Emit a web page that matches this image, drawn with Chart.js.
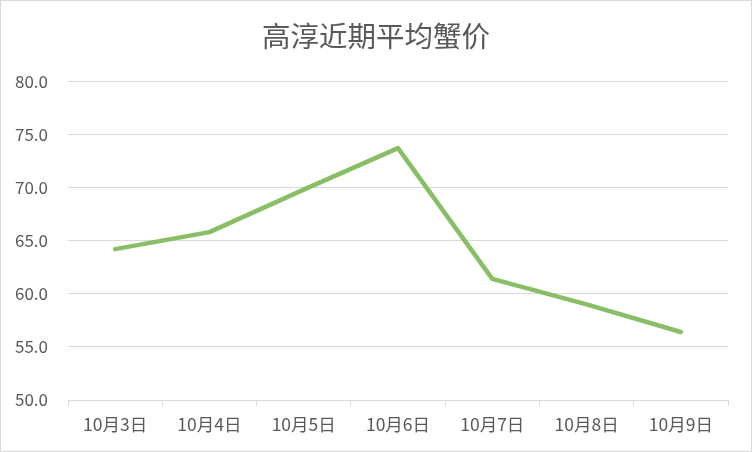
<!DOCTYPE html>
<html>
<head>
<meta charset="utf-8">
<script src="https://cdn.jsdelivr.net/npm/chart.js@4/dist/chart.umd.min.js"></script>
<style>
  html, body { margin: 0; padding: 0; background: #ffffff; }
  #wrap { width: 752px; height: 452px; }
</style>
</head>
<body>
<div id="wrap"><canvas id="chart"></canvas></div>
<script>
const labels = ['10月3日', '10月4日', '10月5日', '10月6日', '10月7日', '10月8日', '10月9日'];
const prices = [64.2, 65.8, 69.8, 73.7, 61.4, 59.0, 56.4];
const yMin = 50;
const yMax = 80;
const yStep = 5;

const fontFamily = '"Noto Sans CJK SC", "Noto Sans", sans-serif';
const textColor = '#595959';
const gridColor = '#d9d9d9';

const frame = {
    id: 'frame',
    beforeDraw(chart) {
        const ctx = chart.ctx;
        ctx.save();
        ctx.fillStyle = '#ffffff';
        ctx.fillRect(0, 0, chart.width, chart.height);
        ctx.strokeStyle = '#d9d9d9';
        ctx.lineWidth = 1;
        ctx.strokeRect(0.5, 0.5, chart.width - 1, chart.height - 1);
        ctx.restore();
    }
};

const data = {
    labels: labels,
    datasets: [{
        label: '平均蟹价',
        data: prices,
        borderColor: '#88bf66',
        backgroundColor: '#88bf66',
        borderWidth: 4.5,
        pointRadius: 0,
        tension: 0,
        borderCapStyle: 'round',
        borderJoinStyle: 'round'
    }]
};

const config = {
    type: 'line',
    data: data,
    plugins: [frame],
    options: {
        responsive: false,
        animation: false,
        layout: {
            padding: { left: 0, right: 0, top: 0, bottom: 9 }
        },
        plugins: {
            legend: { display: false },
            tooltip: { enabled: false },
            title: {
                display: true,
                text: '高淳近期平均蟹价',
                color: textColor,
                font: { family: fontFamily, size: 28.5, weight: 'normal', lineHeight: 1.2 },
                padding: { top: 19, bottom: 28 }
            }
        },
        scales: {
            x: {
                offset: true,
                grid: {
                    offset: true,
                    drawOnChartArea: false,
                    drawTicks: true,
                    tickLength: 6,
                    color: gridColor
                },
                border: { display: true, color: gridColor, width: 1 },
                ticks: {
                    color: textColor,
                    padding: 8,
                    maxRotation: 0,
                    font: { family: fontFamily, size: 17.5, lineHeight: 1.2 }
                }
            },
            y: {
                min: yMin,
                max: yMax,
                afterFit(scale) { scale.width = 68; },
                grid: {
                    color: gridColor,
                    drawTicks: false
                },
                border: { display: false },
                ticks: {
                    stepSize: yStep,
                    color: textColor,
                    padding: 20,
                    font: { family: fontFamily, size: 17 },
                    callback: (v) => v.toFixed(1)
                }
            },
            // empty right-hand axis: reserves the right margin so the title stays centred
            yRight: {
                position: 'right',
                min: yMin,
                max: yMax,
                afterFit(scale) { scale.width = 24; },
                grid: { display: false },
                border: { display: false },
                ticks: { display: false }
            }
        }
    }
};

const canvas = document.getElementById('chart');
canvas.width = 752;
canvas.height = 452;
const chart = new Chart(canvas, config);
</script>
</body>
</html>
